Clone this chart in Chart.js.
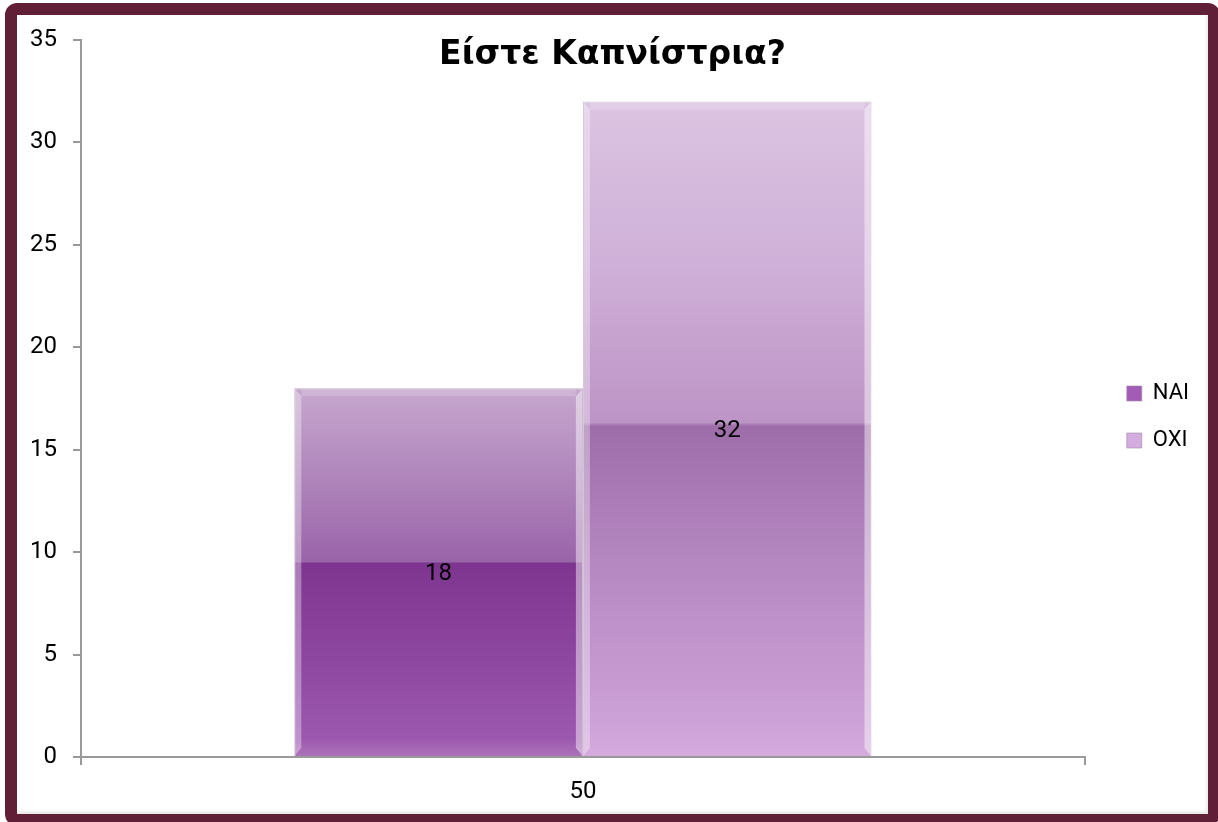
<!DOCTYPE html>
<html lang="el">
<head>
<meta charset="utf-8">
<title>Είστε Καπνίστρια?</title>
<script src="https://cdn.jsdelivr.net/npm/chart.js@4.4.1/dist/chart.umd.min.js"></script>
<style>
  html, body { margin: 0; padding: 0; background: #fff; }
  #frame {
    position: absolute;
    left: 5px;
    top: 3px;
    width: 1191px;
    height: 799px;
    border: 12px solid #601f36;
    border-radius: 12px;
    background: #fff;
    box-shadow: inset -3px -4px 4px -2px rgba(0, 0, 0, 0.12);
  }
  #chart { display: block; }
</style>
</head>
<body>
<div id="frame">
  <canvas id="chart" width="1191" height="799"></canvas>
</div>
<script>
const chartTitle = 'Είστε Καπνίστρια?';
const categories = ['50'];
const seriesNames = ['ΝΑΙ', 'ΟΧΙ'];
const naiValues = [18];
const oxiValues = [32];

// glass look: light upper half, darker band from the middle, lighter again at the base
const naiStops = [
  [0, '#c6a6ce'], [0.12, '#bb97c5'], [0.47, '#9a64a9'],
  [0.475, '#7e3590'], [0.75, '#8f48a1'], [0.95, '#9c58ae'], [1, '#ad74bb']
];
const oxiStops = [
  [0, '#dcc4e2'], [0.25, '#cfb0d8'], [0.49, '#bd94c6'],
  [0.495, '#9d6da9'], [0.7, '#b587c1'], [0.95, '#cda2d8'], [1, '#d5acde']
];

function glassFill(ctx, stops) {
  const chart = ctx.chart;
  const yScale = chart.scales.y;
  if (!yScale || ctx.raw === undefined) return stops[2][1];
  const top = yScale.getPixelForValue(ctx.raw);
  const base = yScale.getPixelForValue(0);
  if (!Number.isFinite(top) || !Number.isFinite(base) || top === base) return stops[2][1];
  const g = chart.ctx.createLinearGradient(0, top, 0, base);
  stops.forEach(([o, c]) => g.addColorStop(o, c));
  return g;
}

// title sits inside the plot area, so draw it by hand
const titlePlugin = {
  id: 'insideTitle',
  afterDraw(chart) {
    const c = chart.ctx;
    c.save();
    c.font = 'bold 33px "DejaVu Sans"';
    c.fillStyle = '#000';
    c.textAlign = 'center';
    c.textBaseline = 'alphabetic';
    c.fillText(chartTitle, chart.width / 2, 49);
    c.restore();
  }
};

// legend keeps its own size, just sits a bit further right and higher
const legendNudge = {
  id: 'legendNudge',
  afterLayout(chart) {
    const lg = chart.legend;
    if (!lg) return;
    lg.left += 17;
    lg.right += 17;
    lg.top -= 10;
    lg.bottom -= 10;
  }
};

// side highlights on the bars plus the value in the middle
const barDecor = {
  id: 'barDecor',
  afterDatasetsDraw(chart) {
    const c = chart.ctx;
    chart.data.datasets.forEach((ds, i) => {
      chart.getDatasetMeta(i).data.forEach((bar, j) => {
        const left = bar.x - bar.width / 2;
        const right = bar.x + bar.width / 2;
        const top = bar.y;
        const base = bar.base;
        c.save();
        c.fillStyle = 'rgba(255,255,255,0.35)';
        c.beginPath();
        c.moveTo(left + 1, top + 1);
        c.lineTo(left + 7, top + 8);
        c.lineTo(left + 7, base - 8);
        c.lineTo(left + 1, base - 1);
        c.closePath();
        c.fill();
        c.fillStyle = 'rgba(255,255,255,0.45)';
        c.beginPath();
        c.moveTo(right - 1, top + 1);
        c.lineTo(right - 7, top + 8);
        c.lineTo(right - 7, base - 8);
        c.lineTo(right - 1, base - 1);
        c.closePath();
        c.fill();
        c.fillStyle = 'rgba(255,255,255,0.18)';
        c.fillRect(left + 7, top + 1, bar.width - 14, 7);
        c.font = '24px Roboto';
        c.fillStyle = '#000';
        c.textAlign = 'center';
        c.textBaseline = 'middle';
        c.fillText(String(ds.data[j]), bar.x, (top + base) / 2 + 2);
        c.restore();
      });
    });
  }
};

const axisGray = '#999999';

new Chart(document.getElementById('chart'), {
  type: 'bar',
  data: {
    labels: categories,
    datasets: [{
      label: seriesNames[0],
      data: naiValues,
      backgroundColor: ctx => glassFill(ctx, naiStops),
      borderColor: 'rgba(175,155,180,0.8)',
      borderWidth: 1,
      legendColor: '#a35cb5'
    }, {
      label: seriesNames[1],
      data: oxiValues,
      backgroundColor: ctx => glassFill(ctx, oxiStops),
      borderColor: 'rgba(200,180,205,0.8)',
      borderWidth: 1,
      legendColor: '#d3ace0'
    }]
  },
  options: {
    responsive: false,
    animation: false,
    categoryPercentage: 0.575,
    barPercentage: 1,
    layout: { padding: { top: 25, right: 26, left: 0, bottom: 0 } },
    plugins: {
      title: { display: false },
      tooltip: { enabled: false },
      legend: {
        position: 'right',
        labels: {
          font: { family: 'Roboto', size: 22 },
          color: '#000',
          boxWidth: 15,
          boxHeight: 15,
          padding: 25,
          generateLabels(chart) {
            return Chart.defaults.plugins.legend.labels.generateLabels(chart).map(item => {
              const ds = chart.data.datasets[item.datasetIndex];
              item.fillStyle = ds.legendColor;
              item.strokeStyle = 'rgba(160,140,165,0.6)';
              item.lineWidth = 1;
              return item;
            });
          }
        }
      }
    },
    scales: {
      x: {
        offset: true,
        grid: { offset: true, drawOnChartArea: false, tickLength: 8, color: axisGray, lineWidth: 2 },
        border: { color: axisGray, width: 2 },
        ticks: { font: { family: 'Roboto', size: 24 }, color: '#000', padding: 13 },
        afterFit(scale) { scale.height = 57; }
      },
      y: {
        min: 0,
        max: 35,
        ticks: { stepSize: 5, font: { family: 'Roboto', size: 24 }, color: '#000', padding: 16 },
        grid: { drawOnChartArea: false, tickLength: 8, color: axisGray, lineWidth: 2 },
        border: { color: axisGray, width: 2 },
        afterFit(scale) {
          scale.width = 64;
          scale.paddingTop = 0;
          scale.paddingBottom = 0;
        }
      }
    }
  },
  plugins: [titlePlugin, legendNudge, barDecor]
});
</script>
</body>
</html>
